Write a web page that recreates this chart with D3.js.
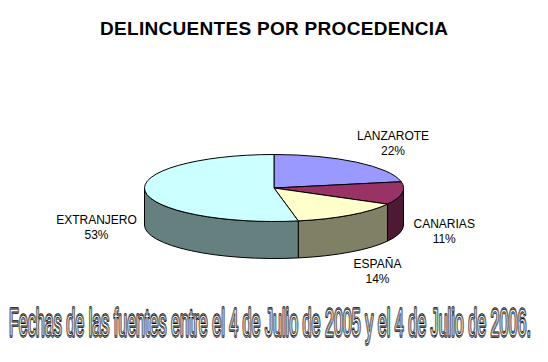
<!DOCTYPE html>
<html>
<head>
<meta charset="utf-8">
<script src="https://cdn.jsdelivr.net/npm/d3@7"></script>
<style>
  body { margin: 0; background: #fff; }
  text { font-family: Arial, "Liberation Sans", sans-serif; }
</style>
</head>
<body>
<div id="chart"></div>
<script>
// data
var categories = ["LANZAROTE", "CANARIAS", "ESPAÑA", "EXTRANJERO"];
var values = [22, 11, 14, 53];
var topColors = ["#9999ff", "#993366", "#ffffcc", "#ccffff"];
var sideColors = ["#4c4c80", "#4d1a33", "#808066", "#668080"];
var title = "DELINCUENTES POR PROCEDENCIA";
var footer = "Fechas de las fuentes entre el 4 de Julio de 2005 y el 4 de Julio de 2006.";

var svgWidth = 548;
var svgHeight = 362;

var cx = 274, cy = 188;
var rx = 129.5, ry = 33.5;
var depth = 37;

var svg = d3.select("#chart")
  .append("svg")
    .attr("width", svgWidth)
    .attr("height", svgHeight);

var data = categories.map((c, i) => ({ name: c, value: values[i], i: i }));

var pie = d3.pie()
  .sort(null)
  .value(d => d.value)
  .startAngle(0)
  .endAngle(2 * Math.PI);

var arcs = pie(data);

function px(a) { return cx + rx * Math.sin(a); }
function py(a, dy) { return cy - ry * Math.cos(a) + (dy || 0); }

// side walls (front half only)
var sides = svg.append("g");
arcs.forEach(function(d) {
  var s = Math.max(d.startAngle, Math.PI / 2);
  var e = Math.min(d.endAngle, 3 * Math.PI / 2);
  if (e <= s) return;
  var path = "M" + px(s) + "," + py(s) +
    " A" + rx + "," + ry + " 0 0 1 " + px(e) + "," + py(e) +
    " L" + px(e) + "," + py(e, depth) +
    " A" + rx + "," + ry + " 0 0 0 " + px(s) + "," + py(s, depth) + " Z";
  sides.append("path")
    .attr("d", path)
    .attr("fill", sideColors[d.data.i])
    .attr("stroke", "#000")
    .attr("stroke-width", 1);
});

// top surface
var tops = svg.append("g");
arcs.forEach(function(d) {
  var large = (d.endAngle - d.startAngle) > Math.PI ? 1 : 0;
  var path = "M" + cx + "," + cy +
    " L" + px(d.startAngle) + "," + py(d.startAngle) +
    " A" + rx + "," + ry + " 0 " + large + " 1 " + px(d.endAngle) + "," + py(d.endAngle) + " Z";
  tops.append("path")
    .attr("d", path)
    .attr("fill", topColors[d.data.i])
    .attr("stroke", "#000")
    .attr("stroke-width", 1)
    .attr("stroke-linejoin", "round");
});

// labels
var labels = svg.append("g");
arcs.forEach(function(d) {
  var m = (d.startAngle + d.endAngle) / 2;
  var sx = Math.sin(m), cz = Math.cos(m);
  var ax = cx + 1.1 * rx * sx;
  var ay = cy - (cz > 0 ? 1.3 : 1.4) * ry * cz + (cz < 0 ? 0.9 * depth : 0);
  var g = labels.append("text")
    .attr("text-anchor", "middle")
    .attr("font-size", "12px")
    .attr("fill", "#000");
  var t1 = g.append("tspan").text(d.data.name);
  var t2 = g.append("tspan").text(d.data.value + "%");
  var w = g.node().getBBox().width;
  var lx = ax + (0.65 + 0.35 * Math.abs(cz)) * (w / 2) * sx;
  var ly = ay - 15 * cz;
  t1.attr("x", lx).attr("y", ly - 3);
  t2.attr("x", lx).attr("y", ly + 12);
});

// title
svg.append("text")
  .attr("x", 100)
  .attr("y", 35)
  .attr("font-size", "19px")
  .attr("font-weight", "bold")
  .attr("textLength", 348)
  .attr("lengthAdjust", "spacing")
  .text(title);

// footer, outlined wordart style
var fx = 9, fy = 336, fw = 522;
var foot = svg.append("g");
var layers = [["#000", 2.6, "none"], ["#fff", 1.3, "none"], ["#000", 0.8, "#fff"]];
layers.forEach(function(s) {
  foot.append("text")
    .attr("x", 0)
    .attr("y", 0)
    .attr("font-size", "39px")
    .attr("font-family", "'Liberation Sans Narrow', 'Liberation Sans', Arial, sans-serif")
    .attr("fill", s[2])
    .attr("stroke", s[0])
    .attr("stroke-width", s[1])
    .attr("stroke-linejoin", "round")
    .attr("vector-effect", "non-scaling-stroke")
    .text(footer);
});
var natural = foot.select("text").node().getComputedTextLength();
foot.attr("transform", "translate(" + fx + "," + fy + ") scale(" + (fw / natural) + ",1)");
</script>
</body>
</html>
